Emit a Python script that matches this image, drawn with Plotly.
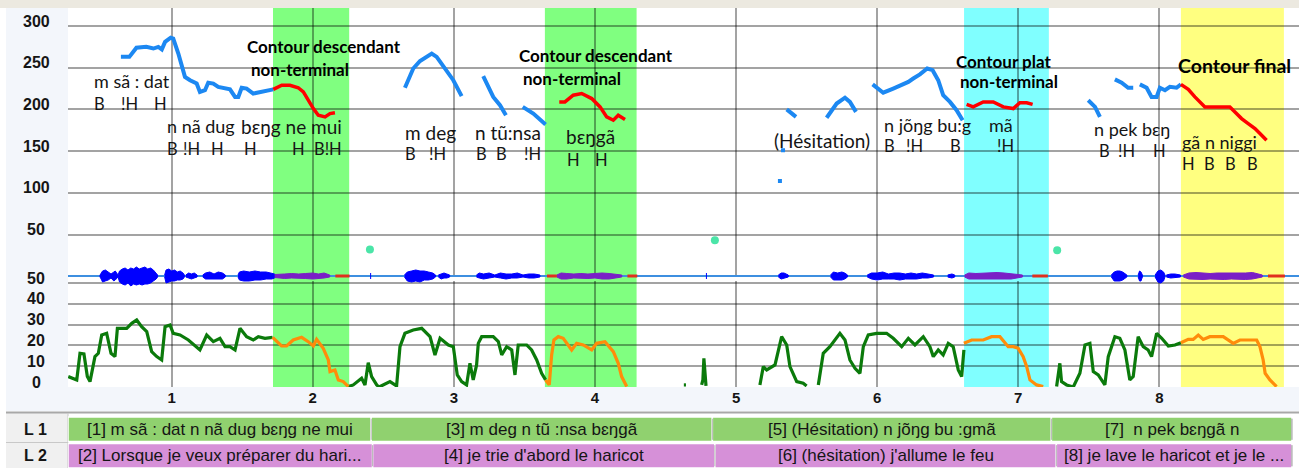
import plotly.graph_objects as go

# ------------------------------------------------------------------ data
# F0 contour (time in s, F0 in Hz) - blue = ordinary, red = highlighted contours
f0_blue_t = [
    [0.64, 0.70, 0.75, 0.82, 0.87, 0.905, 0.93, 0.953, 0.993, 1.011, 1.047, 1.071, 1.094, 1.13, 1.177, 1.20,
     1.236, 1.259, 1.295, 1.33, 1.366, 1.413, 1.449, 1.472, 1.496, 1.531, 1.578, 1.626, 1.673, 1.72],
    [2.653, 2.712, 2.76, 2.843, 2.878, 2.925, 2.996, 3.055],
    [3.208, 3.244, 3.279, 3.327, 3.369],
    [3.488, 3.563, 3.65],
    [5.359, 5.425],
    [5.642, 5.713, 5.772, 5.807, 5.85],
    [5.968, 6.043, 6.114, 6.174, 6.221, 6.256, 6.303, 6.355, 6.393, 6.433, 6.468, 6.516, 6.563, 6.606],
    [7.496, 7.544, 7.579],
    [7.685, 7.733, 7.779, 7.815],
    [7.862, 7.91, 7.945, 7.981, 8.004, 8.04, 8.075, 8.122, 8.153],
]
f0_blue_hz = [
    [263, 263, 274, 275, 273, 275, 272, 281, 286, 285, 267, 251, 239, 235, 231, 221,
     223, 232, 231, 227, 226, 224, 215, 215, 226, 225, 219, 221, 223, 224],
    [226, 249, 258, 267, 263, 251, 235, 216],
    [240, 226, 215, 205, 193],
    [203, 195, 182],
    [200, 191],
    [190, 207, 214, 209, 197],
    [230, 220, 225, 229, 233, 237, 242, 249, 247, 235, 217, 209, 199, 187],
    [211, 203, 191],
    [236, 232, 226, 226],
    [230, 226, 215, 215, 226, 223, 227, 226, 230],
]
f0_red_t = [
    [1.72, 1.78, 1.838, 1.897, 1.933, 1.968, 2.004, 2.039, 2.087, 2.122, 2.157],
    [3.747, 3.787, 3.846, 3.906, 3.977, 4.036, 4.083, 4.13, 4.165, 4.213],
    [6.634, 6.681, 6.752, 6.823, 6.894, 6.965, 7.012, 7.06, 7.102],
    [8.153, 8.205, 8.252, 8.287, 8.323, 8.37, 8.43, 8.5, 8.536, 8.583, 8.63, 8.678, 8.713, 8.76],
]
f0_red_hz = [
    [224, 229, 229, 226, 221, 211, 201, 193, 191, 195, 196],
    [209, 209, 217, 219, 213, 203, 191, 187, 193, 188],
    [206, 203, 209, 209, 203, 201, 208, 208, 206],
    [230, 224, 215, 209, 203, 203, 203, 203, 197, 189, 183, 177, 171, 163],
]
f0_dot_t = [5.311, 5.333]
f0_dot_hz = [114, 151]
mark_t = [2.405, 4.85, 7.276]
mark_hz = [32, 43, 31]

# Intensity (dB) - green = ordinary, orange = highlighted contours
int_green_t = [
    [0.267, 0.327, 0.35, 0.378, 0.402, 0.421, 0.456, 0.48, 0.504, 0.539, 0.57, 0.598, 0.615, 0.681, 0.717, 0.752,
     0.787, 0.823, 0.858, 0.894, 0.929, 0.953, 0.988, 1.011, 1.059, 1.118, 1.2, 1.248, 1.295, 1.342, 1.378, 1.413,
     1.449, 1.484, 1.531, 1.578, 1.614, 1.661, 1.715],
    [2.252, 2.287, 2.346, 2.37, 2.393, 2.417, 2.453, 2.47, 2.547, 2.594, 2.618, 2.653, 2.712, 2.772, 2.831, 2.866,
     2.902, 2.961, 2.996, 3.024, 3.055, 3.09, 3.114, 3.137, 3.161, 3.173, 3.197, 3.279, 3.315, 3.339, 3.374, 3.41,
     3.433, 3.456, 3.516, 3.551, 3.587, 3.622, 3.65],
    [4.63, 4.645],
    [4.756, 4.765, 4.772, 4.78, 4.787],
    [5.169, 5.193, 5.217, 5.276, 5.323, 5.359, 5.382, 5.43, 5.476, 5.5],
    [5.583, 5.618, 5.665, 5.736, 5.772, 5.807, 5.843, 5.878, 5.902, 5.937, 5.996, 6.067, 6.114, 6.174, 6.221, 6.268,
     6.327, 6.374, 6.398, 6.433, 6.468, 6.504, 6.539, 6.575, 6.599, 6.615],
    [7.272, 7.295, 7.307, 7.343, 7.39, 7.437, 7.473, 7.508, 7.532, 7.567, 7.614, 7.638, 7.685, 7.72, 7.756, 7.791,
     7.815, 7.85, 7.886, 7.921, 7.945, 7.981, 8.017, 8.064, 8.111, 8.153],
]
int_green_db = [
    [5, 3.4, 16.2, 15.9, 5, 2.6, 14.6, 16.2, 25, 25.8, 16.2, 14.6, 28.2, 28.2, 30.6, 32.2,
     29, 26.6, 17, 14.6, 13, 29, 29.8, 25.8, 25, 22.6, 17.8, 25, 21.8, 23.4, 19.4, 19.4,
     17.8, 28.2, 24.2, 22.6, 24.2, 23.4, 23.9],
    [0.2, 1, 4.2, 1, 11.7, 5, 1, 0, 2.6, 0.5, 19.4, 25.8, 27.4, 28.2, 24.2, 15.4,
     23.4, 20.2, 19.4, 5.8, 2.6, 1, 11.4, 3.4, 10.6, 21, 24.2, 24.2, 21.8, 15.4, 19.4, 17.8,
     5.8, 20.2, 20.2, 17.8, 13, 6.6, 3.4],
    [1, 1],
    [1, 3.4, 13.8, 3, 0.5],
    [1, 9.8, 8.2, 10.6, 24.2, 20.2, 9.8, 2.6, 1.8, 0.5],
    [1, 16.2, 19.4, 25.8, 22.6, 13, 9, 6.6, 19.4, 25, 25.8, 25.8, 23.4, 19.4, 23.4, 20.2,
     24.2, 19.4, 14.6, 17.8, 15.4, 21, 19.4, 8.2, 5, 17.8],
    [0.2, 11.4, 2.6, 1, 0, 6.6, 20.2, 21, 7.4, 5.8, 1, 14.6, 24.2, 23.4, 17.8, 3.4,
     5, 24.2, 19.4, 17.8, 14.6, 25.8, 23.4, 19.7, 20.2, 21.3],
]
int_orange_t = [
    [1.715, 1.779, 1.814, 1.861, 1.921, 1.968, 2.004, 2.027, 2.074, 2.11, 2.122, 2.157, 2.181, 2.216, 2.252],
    [3.65, 3.676, 3.693, 3.709, 3.74, 3.775, 3.835, 3.87, 3.917, 3.977, 4.012, 4.071, 4.13, 4.165, 4.189, 4.225],
    [6.615, 6.67, 6.752, 6.811, 6.87, 6.929, 6.965, 7.0, 7.035, 7.06, 7.083, 7.13, 7.177],
    [8.153, 8.205, 8.24, 8.276, 8.311, 8.358, 8.453, 8.488, 8.524, 8.571, 8.69, 8.713, 8.736, 8.75, 8.784, 8.831],
]
int_orange_db = [
    [23.9, 19.7, 19.7, 22.6, 23.9, 21.8, 19.7, 22.9, 18.6, 13, 7.4, 8.2, 3.4, 2.6, 0.2],
    [3.4, 1, 15.4, 22.6, 24.2, 23.4, 17.8, 21, 20.2, 17.8, 21, 21.8, 17, 11.4, 5, 0.2],
    [21, 22.6, 22.6, 24.2, 24.2, 19.4, 19.4, 18.6, 14.6, 9.8, 3.4, 1, 0.2],
    [21.3, 22.9, 22.9, 25, 22.9, 24.2, 24.2, 22.6, 21, 22.6, 22.6, 19.4, 13, 6.6, 3.4, 0.2],
]

# Waveform envelope (time, upper / lower half-amplitude)
wave_blue_t = [
    [0.49, 0.50, 0.51, 0.53, 0.55, 0.57, 0.59, 0.60, 0.62],
    [0.62, 0.63, 0.65, 0.67, 0.69, 0.71, 0.73, 0.75, 0.77, 0.79, 0.81, 0.83, 0.85, 0.87, 0.89, 0.90],
    [0.95, 0.96, 0.98, 1.00, 1.02, 1.04, 1.06, 1.08, 1.09],
    [1.10, 1.12, 1.14, 1.16, 1.18], [1.22, 1.24, 1.27, 1.30, 1.33, 1.36, 1.38],
    [1.47, 1.48, 1.51, 1.55, 1.59, 1.63, 1.67, 1.71, 1.73],
    [2.65, 2.67, 2.70, 2.73, 2.76, 2.79, 2.82, 2.85, 2.87], [2.89, 2.91, 2.93, 2.95, 2.97],
    [3.16, 3.18, 3.21, 3.25, 3.29, 3.33, 3.37, 3.41, 3.45, 3.49, 3.53, 3.57, 3.61],
    [5.30, 5.32, 5.34, 5.37], [5.67, 5.69, 5.72, 5.75, 5.77, 5.79],
    [5.93, 5.96, 6.00, 6.04, 6.08, 6.12, 6.16, 6.20, 6.24, 6.28, 6.32, 6.36, 6.40], [6.50, 6.53, 6.55],
    [7.66, 7.68, 7.70, 7.72, 7.74, 7.77], [7.85, 7.86, 7.87, 7.88], [7.97, 7.99, 8.01, 8.03, 8.04],
    [8.05, 8.08, 8.11, 8.15],
]
wave_blue_up = [
    [0.5, 3, 5, 6, 4, 2, 4, 5, 1],
    [1, 5, 7, 8, 6, 8, 7, 9, 7, 8, 9, 7, 8, 6, 3, 1],
    [1, 6, 7, 5, 6, 4, 5, 3, 1],
    [1, 3, 2, 3, 1], [1, 3, 4, 2, 4, 3, 1],
    [1, 4, 5, 4, 5, 4, 4, 3, 2],
    [1, 4, 5, 6, 5, 5, 4, 3, 1], [1, 2, 3, 2, 1],
    [1, 3, 2, 3, 1, 3, 2, 2, 3, 1, 2, 2, 1],
    [1, 3, 3, 1], [1, 4, 3, 4, 3, 1],
    [1, 3, 3, 4, 2, 3, 3, 2, 3, 2, 3, 2, 1], [1, 2, 1],
    [1, 4, 5, 5, 4, 1], [1, 5, 4, 1], [1, 5, 6, 4, 1],
    [1, 2, 2, 1],
]
wave_blue_dn = [
    [0.5, 3, 6, 5, 4, 2, 5, 4, 1],
    [1, 6, 8, 9, 7, 10, 8, 9, 8, 9, 8, 8, 7, 5, 3, 1],
    [1, 7, 6, 5, 5, 4, 4, 3, 1],
    [1, 2, 3, 2, 1], [1, 3, 3, 3, 3, 3, 1],
    [1, 4, 5, 5, 4, 4, 3, 3, 2],
    [1, 5, 6, 5, 6, 4, 4, 3, 1], [1, 3, 2, 2, 1],
    [1, 2, 3, 2, 1, 2, 3, 2, 2, 1, 2, 2, 1],
    [1, 3, 2, 1], [1, 4, 4, 4, 3, 1],
    [1, 3, 4, 3, 3, 3, 4, 3, 3, 3, 2, 2, 1], [1, 2, 1],
    [1, 5, 5, 5, 4, 1], [1, 5, 5, 1], [1, 6, 7, 5, 1],
    [1, 2, 2, 1],
]
wave_purple_t = [
    [1.73, 1.76, 1.80, 1.85, 1.90, 1.95, 2.00, 2.04, 2.08, 2.12],
    [3.73, 3.76, 3.80, 3.85, 3.90, 3.95, 4.00, 4.05, 4.10, 4.15, 4.19],
    [6.62, 6.65, 6.70, 6.75, 6.80, 6.85, 6.90, 6.95, 7.00, 7.03],
    [8.17, 8.21, 8.26, 8.31, 8.36, 8.41, 8.46, 8.51, 8.56, 8.61, 8.66, 8.70, 8.73],
]
wave_purple_up = [
    [1.5, 2, 2, 2.5, 2, 2.5, 3, 2, 3, 1],
    [1, 3, 2.5, 2, 2.5, 2, 2.5, 3, 2.5, 2, 1],
    [1, 3, 2.5, 3, 3, 3.5, 3, 2.5, 2, 1],
    [1, 3, 3.5, 3, 2.5, 3, 3, 2.5, 3, 3, 3.5, 2, 1],
]
wave_purple_dn = [
    [1.5, 2, 2.5, 2, 2, 2.5, 3, 2.5, 2, 1],
    [1, 3, 3, 2, 2.5, 2.5, 2, 3, 3, 2, 1],
    [1, 3, 3, 3, 3.5, 3, 3, 3, 2, 1],
    [1, 3, 3, 3.5, 3, 3, 3.5, 3, 3, 3.5, 3, 2, 1],
]
wave_red_start = [2.16, 3.66, 4.23, 7.10, 8.77]
wave_red_end = [2.26, 3.73, 4.30, 7.21, 8.89]
wave_tick_t = [2.41, 4.79]

# highlighted contours (start, end)
span_start = [1.718, 3.645, 6.616, 8.153]
span_end = [2.258, 4.295, 7.217, 8.883]
span_color = ["#80FF80", "#80FF80", "#80FFFF", "#FFFF80"]

# annotation tiers
tier1_bounds = [0.265, 2.414, 4.832, 7.235, 8.94]
tier1_text = ["[1] m sã : dat n nã dug bɛŋg ne mui", "[3] m deg n tũ :nsa bɛŋgã",
              "[5] (Hésitation) n jõŋg bu :gmã", "[7]  n pek bɛŋgã n"]
tier2_bounds = [0.265, 2.424, 4.85, 7.27, 8.94]
tier2_text = ["[2] Lorsque je veux préparer du hari...", "[4] je trie d'abord le haricot",
              "[6] (hésitation) j'allume le feu", "[8] je lave le haricot et je le ..."]

# text labels on the pitch panel (time, Hz)
word_text = ["m sã : dat", "n nã dug", "bɛŋg ne mui", "m deg", "n tũ:nsa", "bɛŋgã", "(Hésitation)",
             "n jõŋg bu:g", "mã", "n pek bɛŋ", "gã n niggi"]
word_t = [0.435, 0.9525, 1.477, 2.639, 3.135, 3.780, 5.254, 6.034, 6.778, 7.522, 8.146]
word_hz = [234.1, 180.1, 180.1, 172.9, 172.9, 168.1, 163.3, 181.3, 181.3, 176.5, 160.9]
word_big = [False, False, True, True, True, True, True, False, False, False, False]

tone_text = ["B", "!H", "H",
             "B", "!H", "H", "H", "H", "B!H",
             "B", "!H", "B", "B", "!H",
             "H", "H",
             "B", "!H", "B", "!H",
             "B", "!H", "H",
             "H", "B", "B", "B"]
tone_t = [0.435, 0.6265, 0.860,
          0.9525, 1.066, 1.264, 1.498, 1.838, 1.994,
          2.639, 2.809, 3.142, 3.284, 3.482,
          3.788, 3.986,
          6.034, 6.19, 6.502, 6.835,
          7.558, 7.692, 7.94,
          8.146, 8.302, 8.451, 8.607]
tone_hz = [206.5, 206.5, 206.5,
           152.5, 152.5, 152.5, 152.5, 152.5, 152.5,
           146.5, 146.5, 146.5, 146.5, 146.5,
           139.3, 139.3,
           156.1, 156.1, 156.1, 156.1,
           150.1, 150.1, 150.1,
           134.5, 134.5, 134.5, 134.5]

title_text = ["Contour descendant", "non-terminal", "Contour descendant", "non-terminal",
              "Contour plat", "non-terminal", "Contour final"]
title_t = [1.519, 1.548, 3.447, 3.475, 6.544, 6.572, 8.117]
title_hz = [276.0, 248.4, 265.2, 237.6, 258.0, 232.9, 253.2]

pitch_ticks = [300, 250, 200, 150, 100, 50]
int_ticks = [50, 40, 30, 20, 10, 0]
time_ticks = [1, 2, 3, 4, 5, 6, 7, 8]

# ------------------------------------------------------------------ layout helpers
W, H = 1309, 471
ML, MR, MT, MB = 68, 10, 8, 0
PW, PH = W - ML - MR, H - MT - MB


def fy(py):
    return (H - MB - py) / PH


def fx(px):
    return (px - ML) / PW


XR = [0.265, 8.99]
GRID = "rgba(0,0,0,0.36)"
TXT = "#151515"
WORD_FONT = "Lato"


def join(ts, vs):
    xs, ys = [], []
    for t, v in zip(ts, vs):
        xs += list(t) + [None]
        ys += list(v) + [None]
    return xs, ys


def envelope(ts, ups, dns):
    xs, ys = [], []
    for t, u, d in zip(ts, ups, dns):
        xs += list(t) + list(t)[::-1] + [None]
        ys += list(u) + [-v for v in list(d)[::-1]] + [None]
    return xs, ys


fig = go.Figure()

# pitch
x, y = join(f0_blue_t, f0_blue_hz)
fig.add_trace(go.Scatter(x=x, y=y, mode="lines", line=dict(color="#1C88F2", width=4),
                         xaxis="x", yaxis="y", hoverinfo="skip"))
x, y = join(f0_red_t, f0_red_hz)
fig.add_trace(go.Scatter(x=x, y=y, mode="lines", line=dict(color="#FF0000", width=3.5),
                         xaxis="x", yaxis="y", hoverinfo="skip"))
fig.add_trace(go.Scatter(x=f0_dot_t, y=f0_dot_hz, mode="markers",
                         marker=dict(color="#1C88F2", size=4, symbol="square"),
                         xaxis="x", yaxis="y", hoverinfo="skip"))
fig.add_trace(go.Scatter(x=mark_t, y=mark_hz, mode="markers",
                         marker=dict(color="#4BE5A8", size=8),
                         xaxis="x", yaxis="y", hoverinfo="skip"))

# waveform (own invisible x axis, no grid)
fig.add_trace(go.Scatter(x=XR, y=[0, 0], mode="lines", line=dict(color="#3D8FE0", width=2),
                         xaxis="x3", yaxis="y2", hoverinfo="skip"))
x, y = envelope(wave_blue_t, wave_blue_up, wave_blue_dn)
fig.add_trace(go.Scatter(x=x, y=y, mode="lines", fill="toself", fillcolor="#0000FF",
                         line=dict(color="#0000FF", width=1), xaxis="x3", yaxis="y2", hoverinfo="skip"))
x, y = envelope(wave_purple_t, wave_purple_up, wave_purple_dn)
fig.add_trace(go.Scatter(x=x, y=y, mode="lines", fill="toself", fillcolor="#7A1FC6",
                         line=dict(color="#7A1FC6", width=1), xaxis="x3", yaxis="y2", hoverinfo="skip"))
x, y = join([[s, e] for s, e in zip(wave_red_start, wave_red_end)], [[0, 0]] * len(wave_red_start))
fig.add_trace(go.Scatter(x=x, y=y, mode="lines", line=dict(color="#E0301E", width=3),
                         xaxis="x3", yaxis="y2", hoverinfo="skip"))
x, y = join([[t, t] for t in wave_tick_t], [[-3, 3]] * len(wave_tick_t))
fig.add_trace(go.Scatter(x=x, y=y, mode="lines", line=dict(color="#0000FF", width=1),
                         xaxis="x3", yaxis="y2", hoverinfo="skip"))

# intensity
x, y = join(int_green_t, int_green_db)
fig.add_trace(go.Scatter(x=x, y=y, mode="lines", line=dict(color="#0B7A0B", width=3.2),
                         xaxis="x", yaxis="y3", hoverinfo="skip"))
x, y = join(int_orange_t, int_orange_db)
fig.add_trace(go.Scatter(x=x, y=y, mode="lines", line=dict(color="#FF8C0A", width=3.2),
                         xaxis="x", yaxis="y3", hoverinfo="skip"))

shapes = []
# backgrounds
shapes.append(dict(type="rect", xref="paper", yref="paper", x0=fx(0), x1=1, y0=1, y1=fy(0),
                   fillcolor="#ECE9E0", line=dict(width=0), layer="below"))
shapes.append(dict(type="rect", xref="paper", yref="paper", x0=fx(6), x1=0, y0=fy(411), y1=1,
                   fillcolor="#F3F6FB", line=dict(width=0), layer="below"))
shapes.append(dict(type="rect", xref="paper", yref="paper", x0=fx(6), x1=1, y0=fy(411), y1=fy(387),
                   fillcolor="#F3F6FB", line=dict(width=0), layer="below"))
shapes.append(dict(type="rect", xref="paper", yref="paper", x0=fx(6), x1=0, y0=fy(468), y1=fy(413),
                   fillcolor="#F0F0F0", line=dict(width=0), layer="below"))
shapes.append(dict(type="line", xref="paper", yref="paper", x0=fx(6), x1=1, y0=fy(412.5), y1=fy(412.5),
                   line=dict(color="#A8A8A8", width=2), layer="below"))
shapes.append(dict(type="line", xref="paper", yref="paper", x0=fx(6), x1=0, y0=fy(442.5), y1=fy(442.5),
                   line=dict(color="#C8C8C8", width=1), layer="below"))
shapes.append(dict(type="line", xref="paper", yref="paper", x0=0, x1=0, y0=fy(468), y1=fy(413),
                   line=dict(color="#C8C8C8", width=1), layer="below"))
# highlighted spans
for s, e, c in zip(span_start, span_end, span_color):
    shapes.append(dict(type="rect", xref="x", yref="paper", x0=s, x1=e, y0=fy(387), y1=1,
                       fillcolor=c, line=dict(width=0), layer="below"))
# tier cells
for row, bounds, col in ((1, tier1_bounds, "#90D16F"), (2, tier2_bounds, "#D690D8")):
    for i in range(len(bounds) - 1):
        shapes.append(dict(type="rect", xref="x2", yref="y4", x0=bounds[i], x1=bounds[i + 1],
                           y0=row - 0.46, y1=row + 0.46, fillcolor=col,
                           line=dict(color="white", width=1.5), layer="above"))
        if i > 0:
            shapes.append(dict(type="line", xref="x2", yref="y4", x0=bounds[i], x1=bounds[i],
                               y0=row - 0.4, y1=row + 0.4, line=dict(color="#B4B4B4", width=1),
                               layer="above"))
    shapes.append(dict(type="line", xref="x2", yref="y4", x0=bounds[-1], x1=bounds[-1],
                       y0=row - 0.4, y1=row + 0.4, line=dict(color="#909090", width=1), layer="above"))

ann = []
for v in pitch_ticks:
    ann.append(dict(text=str(v), xref="paper", x=fx(36), yref="y", y=v, yshift=5, showarrow=False,
                    xanchor="center", yanchor="middle",
                    font=dict(family="Liberation Sans", size=16, color=TXT, weight="bold")))
for v in int_ticks:
    ann.append(dict(text=str(v), xref="paper", x=fx(36), yref="y3", y=v, yshift=5, showarrow=False,
                    xanchor="center", yanchor="middle",
                    font=dict(family="Liberation Sans", size=16, color=TXT, weight="bold")))
for txt, t, hz, big in zip(word_text, word_t, word_hz, word_big):
    ann.append(dict(text=txt, xref="x", x=t, yref="y", y=hz, showarrow=False, xanchor="left",
                    yanchor="middle", font=dict(family=WORD_FONT, size=19 if big else 18, color=TXT)))
for txt, t, hz in zip(tone_text, tone_t, tone_hz):
    ann.append(dict(text=txt, xref="x", x=t, yref="y", y=hz, showarrow=False, xanchor="left",
                    yanchor="middle", font=dict(family=WORD_FONT, size=16.5, color=TXT)))
for i, (txt, t, hz) in enumerate(zip(title_text, title_t, title_hz)):
    ann.append(dict(text=txt, xref="x", x=t, yref="y", y=hz, showarrow=False, xanchor="left",
                    yanchor="middle",
                    font=dict(family=WORD_FONT, size=19.5 if txt == "Contour final" else 17,
                              color="#000000", weight="bold")))
for row, bounds, texts in ((1, tier1_bounds, tier1_text), (2, tier2_bounds, tier2_text)):
    for i, txt in enumerate(texts):
        ann.append(dict(text=txt, xref="x2", x=(bounds[i] + bounds[i + 1]) / 2, yref="y4", y=row,
                        showarrow=False, xanchor="center", yanchor="middle",
                        font=dict(family="Liberation Sans", size=17, color=TXT)))
    ann.append(dict(text="L %d" % row, xref="paper", x=fx(35), yref="y4", y=row, showarrow=False,
                    xanchor="center", yanchor="middle",
                    font=dict(family="Liberation Sans", size=16, color=TXT, weight="bold")))

pitch_px_per_hz = 0.834
fig.update_layout(
    width=W, height=H, autosize=False,
    margin=dict(l=ML, r=MR, t=MT, b=MB, pad=0),
    paper_bgcolor="white", plot_bgcolor="rgba(0,0,0,0)",
    showlegend=False,
    shapes=shapes, annotations=ann,
    xaxis=dict(range=XR, domain=[0, 1], anchor="y3", showgrid=True, gridcolor=GRID, gridwidth=1.5,
               tickvals=time_ticks, ticks="", zeroline=False, showline=False,
               tickfont=dict(family="Liberation Sans", size=15, color=TXT, weight="bold")),
    xaxis2=dict(range=XR, domain=[0, 1], anchor="y4", visible=False, showgrid=False),
    xaxis3=dict(range=XR, domain=[0, 1], anchor="y2", visible=False, showgrid=False),
    yaxis=dict(domain=[fy(276.2), 1], range=[0, (276.2 - 8) / pitch_px_per_hz], anchor="x",
               tickvals=pitch_ticks, showticklabels=False, ticks="", showgrid=True, gridcolor=GRID,
               gridwidth=1.5, zeroline=False, showline=False),
    yaxis2=dict(domain=[fy(290), fy(262)], range=[-14, 14], anchor="x3", tickvals=[0],
                showticklabels=False, ticks="", showgrid=True, gridcolor=GRID, gridwidth=1.5,
                zeroline=False, showline=False),
    yaxis3=dict(domain=[fy(387), fy(387 - 51 * 2.08)], range=[0, 51], anchor="x",
                tickvals=[10, 20, 30, 40, 50], showticklabels=False, ticks="", showgrid=True,
                gridcolor=GRID, gridwidth=1.5, zeroline=False, showline=False),
    yaxis4=dict(domain=[fy(469), fy(416)], range=[2.5, 0.5], anchor="x2", visible=False,
                showgrid=False),
)

fig.write_html("out.html", config={"displayModeBar": False},
               post_script="document.body.style.margin='0';")
